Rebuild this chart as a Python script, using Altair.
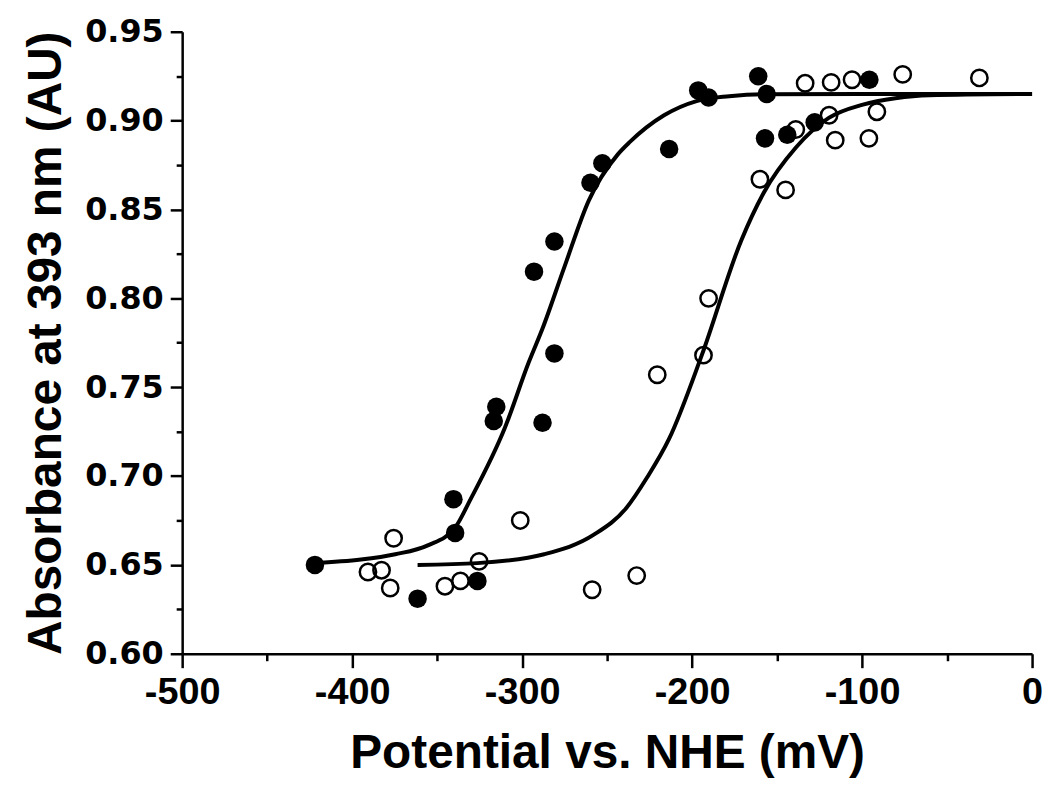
import altair as alt
import pandas as pd

# ---- data ----
filled_x = [-421.9, -361.5, -326.3, -340.4, -339.4, -315.2, -316.7, -288.0, -281.0, -293.0, -281.0,
            -259.8, -252.8, -213.5, -196.4, -190.3, -161.1, -156.1, -157.1, -144.0, -127.9, -95.7]
filled_y = [0.650, 0.631, 0.641, 0.687, 0.668, 0.739, 0.731, 0.730, 0.769, 0.815, 0.832,
            0.865, 0.876, 0.884, 0.917, 0.913, 0.925, 0.915, 0.890, 0.892, 0.899, 0.923]

open_x = [-375.6, -390.7, -382.7, -377.6, -345.4, -336.3, -325.3, -301.1, -258.8, -232.6, -220.5,
          -193.3, -190.3, -160.1, -145.0, -139.0, -119.4, -91.3, -115.8, -96.0, -133.5, -118.2,
          -105.9, -76.1, -31.0]
open_y = [0.665, 0.646, 0.647, 0.637, 0.638, 0.641, 0.652, 0.675, 0.636, 0.644, 0.757,
          0.768, 0.800, 0.867, 0.861, 0.895, 0.903, 0.905, 0.889, 0.890, 0.921,
          0.9215, 0.923, 0.926, 0.924]

fit1_x = [-422.9, -394.8, -374.6, -355.5, -339.4, -330.3, -310.2, -296.1, -288.0, -275.0, -260.8,
          -243.7, -236.6, -216.5, -197.4, -178.2, -158.1, -100.7, 0]
fit1_y = [0.651, 0.653, 0.656, 0.661, 0.671, 0.687, 0.727, 0.764, 0.783, 0.818, 0.855,
          0.881, 0.888, 0.903, 0.911, 0.9137, 0.9148, 0.915, 0.915]

fit2_x = [-361.5, -326.3, -287.0, -257.8, -238.7, -226.6, -213.5, -194.3, -170.9, -158.1, -138.8,
          -119.6, -99.5, -80.4, -60.4, 0]
fit2_y = [0.650, 0.651, 0.656, 0.667, 0.682, 0.699, 0.721, 0.768, 0.833, 0.859, 0.885,
          0.9015, 0.909, 0.9126, 0.9143, 0.915]

x_major = [-500, -400, -300, -200, -100, 0]
x_minor = [-450, -350, -250, -150, -50]
y_major = [0.60, 0.65, 0.70, 0.75, 0.80, 0.85, 0.90, 0.95]
y_minor = [0.625, 0.675, 0.725, 0.775, 0.825, 0.875, 0.925]

x_title = "Potential vs. NHE (mV)"
y_title = "Absorbance at 393 nm (AU)"

df_f = pd.DataFrame({"x": filled_x, "y": filled_y})
df_o = pd.DataFrame({"x": open_x, "y": open_y})
df_c = pd.concat([
    pd.DataFrame({"x": fit1_x, "y": fit1_y, "c": "fit1"}),
    pd.DataFrame({"x": fit2_x, "y": fit2_y, "c": "fit2"}),
])
df_minor = pd.DataFrame({"x": [-500], "y": [0.60]})

xs = alt.Scale(domain=[-500, 0], nice=False, zero=False)
ys = alt.Scale(domain=[0.60, 0.95], nice=False, zero=False)

font = "Liberation Sans, Arial"
wide = "DejaVu Sans"

xax = alt.Axis(values=x_major, labelExpr="datum.value", orient="bottom", title=x_title,
               tickSize=14, tickWidth=2.5, domainWidth=2.5, domainColor="black", tickColor="black",
               labelFont=font, labelFontSize=38, labelFontWeight="bold", labelColor="black",
               labelPadding=6, labelFlush=False, labelOverlap=False,
               titleFont=font, titleFontSize=48, titleFontWeight="bold", titleColor="black",
               titlePadding=18, grid=False)
yax = alt.Axis(values=y_major, format=".2f", orient="left", title=y_title,
               tickSize=12, tickWidth=2.5, domainWidth=2.5, domainColor="black", tickColor="black",
               labelFont=wide, labelFontSize=32, labelFontWeight="bold", labelColor="black",
               labelPadding=7, labelFlush=False, labelOverlap=False,
               titleFont=font, titleFontSize=48, titleFontWeight="bold", titleColor="black",
               titlePadding=14, grid=False)

xax_minor = alt.Axis(values=x_minor, orient="bottom", labels=False, title=None, domain=False,
                     tickSize=7, tickWidth=2.5, tickColor="black", grid=False)
yax_minor = alt.Axis(values=y_minor, orient="left", labels=False, title=None, domain=False,
                     tickSize=6, tickWidth=2.5, tickColor="black", grid=False)

curves = alt.Chart(df_c).mark_line(color="black", strokeWidth=4, interpolate="monotone").encode(
    x=alt.X("x:Q", scale=xs, axis=xax),
    y=alt.Y("y:Q", scale=ys, axis=yax),
    detail="c:N",
)

minor = alt.Chart(df_minor).mark_point(opacity=0).encode(
    x=alt.X("x:Q", scale=xs, axis=xax_minor),
    y=alt.Y("y:Q", scale=ys, axis=yax_minor),
)

open_pts = alt.Chart(df_o).mark_point(shape="circle", filled=False, color="black",
                                      strokeWidth=2.5, size=270, opacity=1).encode(
    x=alt.X("x:Q", scale=xs, axis=None),
    y=alt.Y("y:Q", scale=ys, axis=None),
)

filled_pts = alt.Chart(df_f).mark_point(shape="circle", filled=True, color="black",
                                        size=346, opacity=1).encode(
    x=alt.X("x:Q", scale=xs, axis=None),
    y=alt.Y("y:Q", scale=ys, axis=None),
)

chart = alt.layer(curves, minor, open_pts, filled_pts).resolve_axis(
    x="independent", y="independent"
).properties(
    width=854, height=625,
    autosize=alt.AutoSizeParams(type="none"),
    padding={"left": 175, "top": 22, "right": 14, "bottom": 125},
    background="white",
).configure_view(stroke=None)

chart.save("out.html", embed_options={"renderer": "svg", "actions": False})
